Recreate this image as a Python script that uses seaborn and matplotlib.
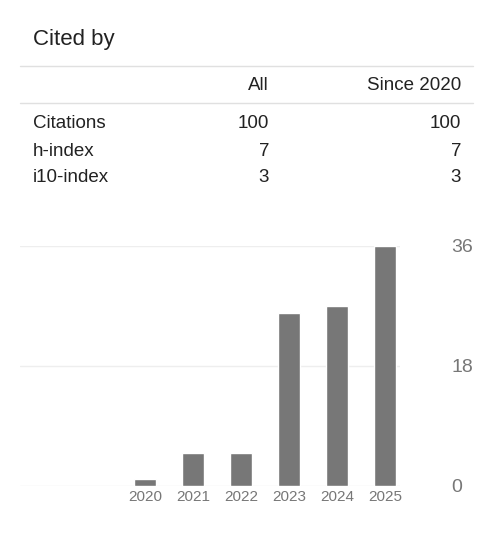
import matplotlib
matplotlib.use("Agg")
import matplotlib.pyplot as plt
import seaborn as sns
from matplotlib.lines import Line2D

years = ["2020", "2021", "2022", "2023", "2024", "2025"]
counts = [1, 5, 5, 26, 27, 36]
row_names = ["Citations", "h-index", "i10-index"]
all_vals = ["100", "7", "3"]
since_vals = ["100", "7", "3"]
y_ticks = [0, 18, 36]

W, H = 504, 541
sns.set_style("white")
plt.rcParams['font.family'] = ['Arial', 'Liberation Sans', 'DejaVu Sans']
fig = plt.figure(figsize=(W / 100, H / 100), dpi=100)

def px(x, y):
    return x / W, 1 - y / H

txt = "#222222"
fig.text(*px(33, 39), "Cited by", fontsize=16, color=txt, va="center")
for yy in (66, 103):
    fig.add_artist(Line2D([20 / W, 473 / W], [1 - yy / H] * 2, color="#e0e0e0", lw=1))
fig.text(*px(269, 85), "All", fontsize=13.5, color=txt, ha="right", va="center")
fig.text(*px(461, 85), "Since 2020", fontsize=13.5, color=txt, ha="right", va="center")
for i, name in enumerate(row_names):
    y = 124 + 27 * i
    fig.text(*px(33, y), name, fontsize=13.5, color=txt, va="center")
    fig.text(*px(269, y), all_vals[i], fontsize=13.5, color=txt, ha="right", va="center")
    fig.text(*px(461, y), since_vals[i], fontsize=13.5, color=txt, ha="right", va="center")

ax = fig.add_axes([20 / W, 55 / H, 380 / W, 240 / H])
sns.barplot(x=list(range(len(years))), y=counts, color="#777777", width=0.46,
            saturation=1, ax=ax, native_scale=True)
ax.set_xlim(-2.6, 5.31)
ax.set_ylim(0, 36)
ax.set_xticks(range(len(years)))
ax.set_xticklabels(years)
ax.yaxis.tick_right()
ax.set_yticks(y_ticks)
ax.tick_params(axis="y", length=0, pad=37, labelsize=14, labelcolor="#777777")
ax.tick_params(axis="x", length=0, pad=3, labelsize=11, labelcolor="#777777")
for s in ax.spines.values():
    s.set_visible(False)
for t in y_ticks:
    ax.axhline(t, color="#eeeeee", lw=1, zorder=0)
ax.set_axisbelow(True)
ax.set_xlabel("")
ax.set_ylabel("")

fig.savefig("out.png", dpi=100)
